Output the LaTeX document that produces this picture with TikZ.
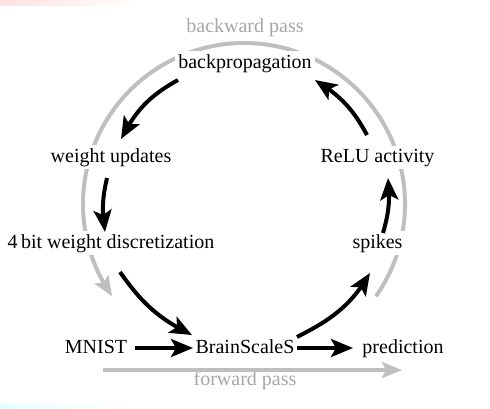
\documentclass[tikz,border=0pt]{standalone}
\usepackage{fontspec}
\setmainfont{Liberation Serif}
\usetikzlibrary{arrows.meta,calc,bending}
\begin{document}
\begin{tikzpicture}[x=0.5pt,y=0.5pt,
  lbl/.style={fill=white, inner sep=1.5pt, anchor=base},
  gtxt/.style={text=black!35, anchor=base, inner sep=1pt},
  flow/.style={line width=2pt, -{Stealth[length=11pt,width=9pt,inset=2.5pt]}},
  pass/.style={line width=2pt, color=black!25, -{Stealth[length=10pt,width=8pt,inset=2pt]}}]
\useasboundingbox (0,0) rectangle (490,408);
\shade[left color=red!12, right color=white] (0,402) rectangle (140,408);
\shade[left color=cyan!10, right color=white] (0,0) rectangle (130,5);
\coordinate (C) at (244,204);
% backward pass arc
\draw[pass] ($(C)+(-35:80.5pt)$) arc[start angle=-35, end angle=215, radius=80.5pt];
\node[gtxt] (bwd) at (245,376) {backward pass};
% nodes
\node[lbl] (bp) at (245,340) {backpropagation};
\node[lbl] (wu) at (111,246) {weight updates};
\node[lbl] (relu) at (377.5,246) {ReLU activity};
\node[lbl] (disc) at (111,160) {4\,bit weight discretization};
\node[lbl] (spk) at (377.5,160) {spikes};
\node[lbl] (mnist) at (96,55) {MNIST};
\node[lbl] (bss) at (245,55) {BrainScaleS};
\node[lbl] (pred) at (403,55) {prediction};
\node[gtxt] (fwd) at (245,23) {forward pass};
% forward pass arrow
\draw[pass] ($(mnist.base)+(7,-17)$) -- ($(pred.base)+(-1,-17)$);
% black arrows
\draw[flow] ($(bp.base)+(-67,-12)$) to[bend right=17] ($(wu.base)+(10,23)$);
\draw[flow] ($(wu.base)+(-4,-16)$) to[bend right=11] ($(disc.base)+(-6,16)$);
\draw[flow] ($(disc.base)+(9,-24)$) to[out=-55,in=154] ($(bss.base)+(-53,18)$);
\draw[flow] ($(mnist.base)+(39,5)$) -- ($(bss.base)+(-52,5)$);
\draw[flow] ($(bss.base)+(52,5)$) -- ($(pred.base)+(-50,5)$);
\draw[flow] ($(bss.base)+(52,16)$) to[out=27,in=240] ($(spk.base)+(-7.5,-25)$);
\draw[flow] ($(spk.base)+(5.5,15)$) to[bend right=11] ($(relu.base)+(10.5,-16)$);
\draw[flow] ($(relu.base)+(-10.5,27)$) to[bend right=15] ($(bp.base)+(70,-12)$);
\end{tikzpicture}
\end{document}
